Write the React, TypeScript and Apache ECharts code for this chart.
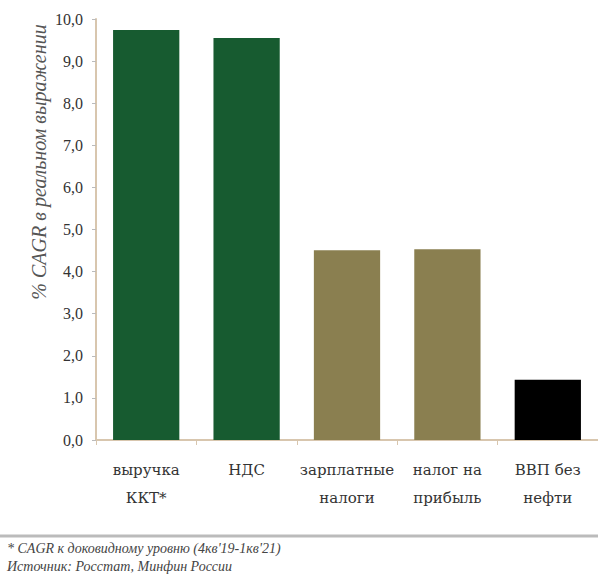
import React, { useEffect, useRef } from "react";
import * as echarts from "echarts";

const categories = ["выручка\nККТ*", "НДС", "зарплатные\nналоги", "налог на\nприбыль", "ВВП без\nнефти"];
const values = [9.74, 9.55, 4.51, 4.53, 1.43];
const barColors = ["#175b30", "#175b30", "#8a7f50", "#8a7f50", "#000000"];
const yTitle = "% CAGR в реальном выражении";
const footnotes = ["* CAGR к доковидному уровню (4кв'19-1кв'21)", "Источник: Росстат, Минфин России"];

export default function App() {
  const ref = useRef<HTMLDivElement>(null);
  useEffect(() => {
    const chart = echarts.init(ref.current!, null, { renderer: "svg" });
    const font = "Liberation Serif";
    chart.setOption({
      animation: false,
      backgroundColor: "#ffffff",
      textStyle: { fontFamily: font },
      grid: { left: 96, right: 0, top: 19, bottom: 134 },
      xAxis: {
        type: "category",
        data: categories,
        axisLine: { lineStyle: { color: "#d8c6ae", width: 2 } },
        axisTick: { show: true, length: 5, lineStyle: { color: "#d8c6ae" } },
        axisLabel: {
          color: "#333",
          fontFamily: "DejaVu Serif",
          fontSize: 15,
          lineHeight: 28,
          margin: 16,
          interval: 0,
        },
      },
      yAxis: {
        type: "value",
        min: 0,
        max: 10,
        interval: 1,
        axisLine: { show: true, lineStyle: { color: "#d8c6ae", width: 2 } },
        axisTick: { show: true, length: 4, lineStyle: { color: "#bbb" } },
        splitLine: { show: false },
        axisLabel: {
          color: "#333",
          fontFamily: font,
          fontSize: 16,
          margin: 13,
          formatter: (v: number) => v.toFixed(1).replace(".", ","),
        },
      },
      series: [
        {
          type: "bar",
          barCategoryGap: "34%",
          data: values.map((v, i) => ({ value: v, itemStyle: { color: barColors[i] } })),
        },
      ],
      graphic: [
        {
          type: "text",
          x: 39,
          y: 162,
          rotation: Math.PI / 2,
          style: {
            text: yTitle,
            fill: "#555",
            fontFamily: font,
            fontStyle: "italic",
            fontSize: 20,
            align: "center",
            verticalAlign: "middle",
          },
        },
        { type: "line", shape: { x1: 0, y1: 536, x2: 598, y2: 536 }, style: { stroke: "#bbb", lineWidth: 3 } },
        {
          type: "text",
          x: 7,
          y: 548,
          style: { text: footnotes[0], fill: "#444", fontFamily: font, fontStyle: "italic", fontSize: 14, verticalAlign: "middle" },
        },
        {
          type: "text",
          x: 7,
          y: 566,
          style: { text: footnotes[1], fill: "#444", fontFamily: font, fontStyle: "italic", fontSize: 14, verticalAlign: "middle" },
        },
      ],
    });
    return () => chart.dispose();
  }, []);
  return <div ref={ref} style={{ width: 598, height: 574, position: "absolute", left: 0, top: 0 }} />;
}
